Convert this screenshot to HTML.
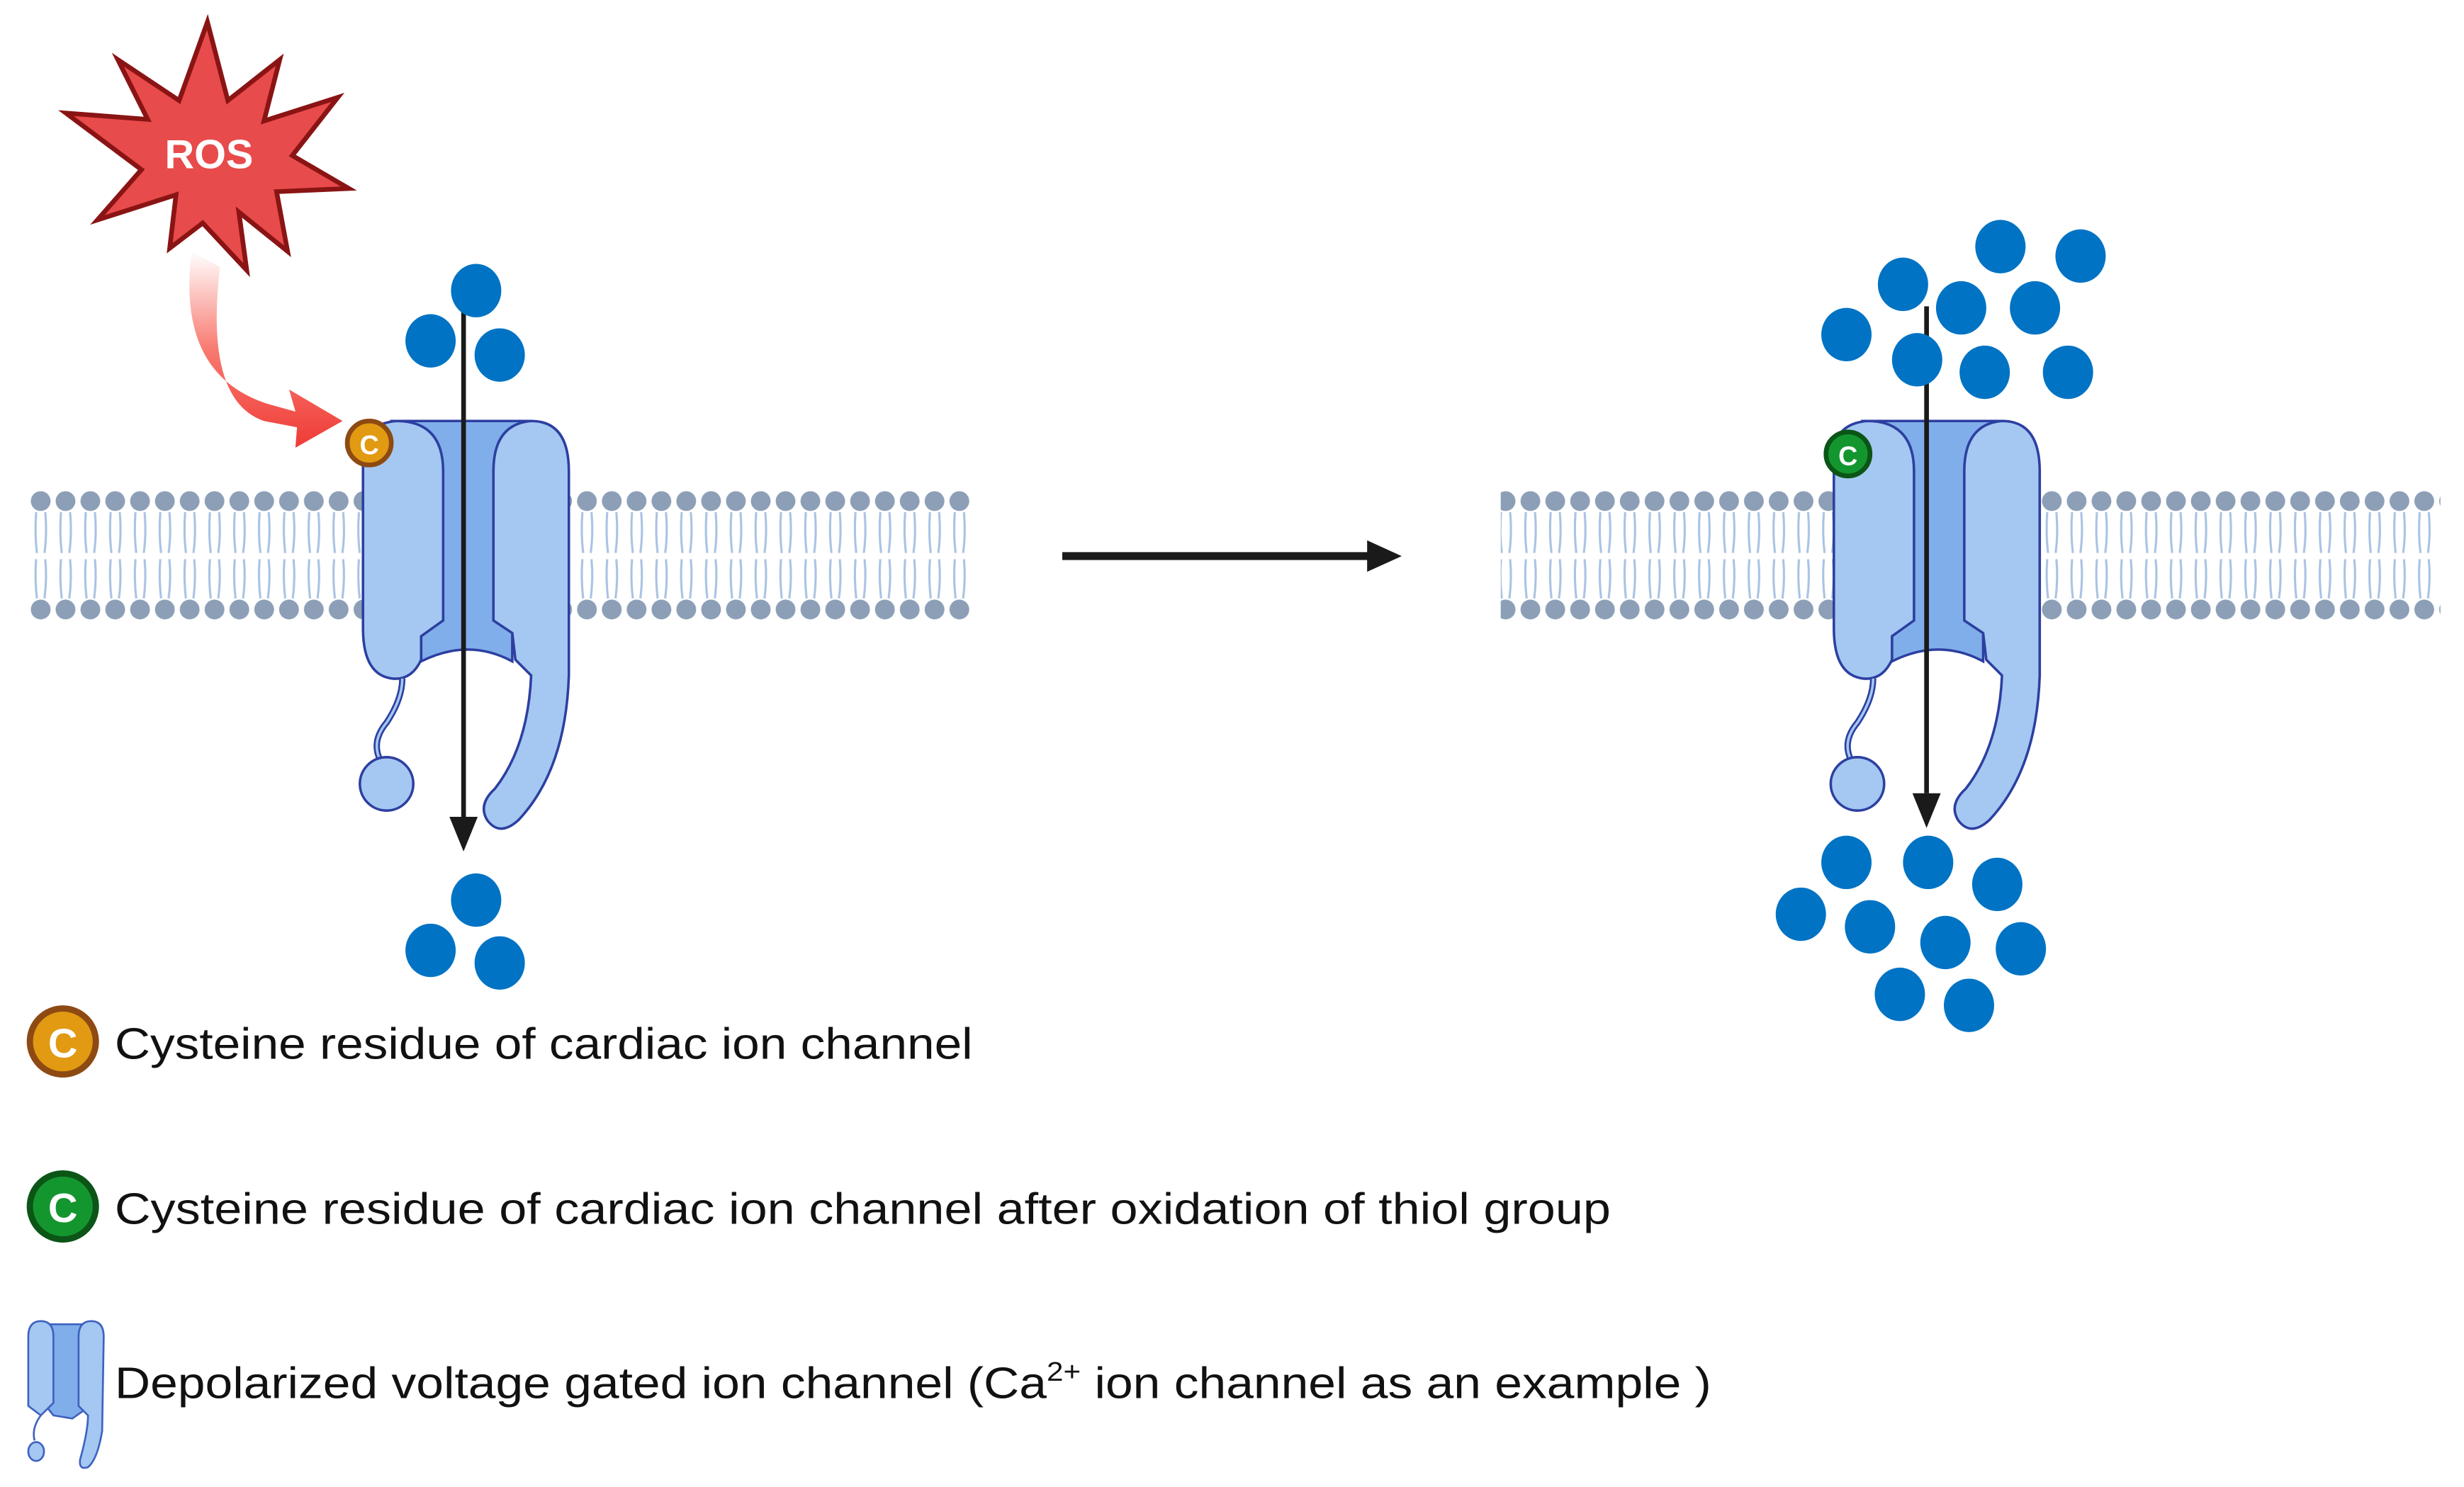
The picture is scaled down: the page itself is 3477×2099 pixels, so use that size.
<!DOCTYPE html>
<html><head><meta charset="utf-8"><style>html,body{margin:0;padding:0;background:#fff}svg{display:block}</style></head>
<body>
<svg width="3477" height="2099" viewBox="0 0 1568 946.6" preserveAspectRatio="none" xmlns="http://www.w3.org/2000/svg" font-family="Liberation Sans, sans-serif">
<defs>
<pattern id="mem" x="18" y="0" width="15.8" height="946" patternUnits="userSpaceOnUse">
<circle cx="7.9" cy="319" r="6.3" fill="#8c9fb7"/>
<circle cx="7.9" cy="388" r="6.3" fill="#8c9fb7"/>
<path d="M5 326 Q4 340 5.5 352 M10.8 326 Q12 340 10.3 352 M5 356 Q4 368 5.5 381 M10.8 356 Q12 368 10.3 381" stroke="#a9c3e3" stroke-width="1.4" fill="none"/>
</pattern>
<linearGradient id="rg" x1="0" y1="0" x2="0" y2="1"><stop offset="0" stop-color="#fff"/><stop offset="0.5" stop-color="#f87a70"/><stop offset="1" stop-color="#ef3b36"/></linearGradient>
<g id="chan">
<path d="M250 268 L338 268 L338 300 L326 403 L326 421 Q298 406 268 421 L268 403 L282 300 Z" fill="#80aeea" stroke="#2d3fa0" stroke-width="1.6"/>
<path d="M314 300 Q314 270 338 268 Q362 268 362 300 L362 430 Q360 490 330 522 Q318 533 310 522 Q304 512 315 502 Q336 475 338 430 L328 420 L326 403 L314 395 Z" fill="#a4c8f2" stroke="#2d3fa0" stroke-width="1.6"/>
<path d="M231 290 Q231 270 252 268 Q282 268 282 300 L282 395 L268 405 L268 420 Q262 433 250 432 Q231 430 231 400 Z" fill="#a4c8f2" stroke="#2d3fa0" stroke-width="1.6"/>
<path d="M256 432 Q256 445 246 460 Q236 472 242 484" stroke="#2d3fa0" stroke-width="4" fill="none"/>
<path d="M256 432 Q256 445 246 460 Q236 472 242 484" stroke="#a4c8f2" stroke-width="1.6" fill="none"/>
<circle cx="246" cy="499" r="17" fill="#a4c8f2" stroke="#2d3fa0" stroke-width="1.6"/>
</g>
</defs>
<rect x="18" y="308" width="214" height="90" fill="url(#mem)"/>
<rect x="362" y="308" width="255" height="90" fill="url(#mem)"/>
<rect x="955" y="308" width="214" height="90" fill="url(#mem)"/>
<rect x="1298" y="308" width="255" height="90" fill="url(#mem)"/>
<use href="#chan"/>
<use href="#chan" transform="translate(936,0)"/>
<polygon points="132,14 145,64 178,38 168,77 215,62 186,99 222,120 176,122 183,160 152,135 157,172 129,142 108,158 112,124 62,140 90,108 42,72 94,76 75,38 114,64" fill="#e84b4b" stroke="#8a1414" stroke-width="3" stroke-linejoin="miter"/>
<text x="133" y="107" font-size="26" font-weight="bold" fill="#fff" text-anchor="middle">ROS</text>
<path d="M122 160 Q112 238 170 257 L188 262 L184 248 L218 268 L188 285 L189 272 L168 268 Q130 255 140 170 Z" fill="url(#rg)"/>
<circle cx="235" cy="282" r="14" fill="#e19a12" stroke="#8d4a12" stroke-width="3"/>
<text x="235" y="289" font-size="17" font-weight="bold" fill="#fff" text-anchor="middle">C</text>
<circle cx="1176" cy="289" r="14" fill="#14962f" stroke="#0b5516" stroke-width="3"/>
<text x="1176" y="296" font-size="17" font-weight="bold" fill="#fff" text-anchor="middle">C</text>
<line x1="295" y1="195" x2="295" y2="520" stroke="#1a1a1a" stroke-width="3"/>
<polygon points="286,520 304,520 295,542" fill="#1a1a1a"/>
<line x1="1226" y1="195" x2="1226" y2="505" stroke="#1a1a1a" stroke-width="3"/>
<polygon points="1217,505 1235,505 1226,527" fill="#1a1a1a"/>
<line x1="676" y1="354" x2="872" y2="354" stroke="#1a1a1a" stroke-width="5"/>
<polygon points="870,344 892,354 870,364" fill="#1a1a1a"/>
<g fill="#0073c4">
<ellipse cx="303" cy="185" rx="16" ry="17"/><ellipse cx="274" cy="217" rx="16" ry="17"/><ellipse cx="318" cy="226" rx="16" ry="17"/>
<ellipse cx="303" cy="573" rx="16" ry="17"/><ellipse cx="274" cy="605" rx="16" ry="17"/><ellipse cx="318" cy="613" rx="16" ry="17"/>
<ellipse cx="1273" cy="157" rx="16" ry="17"/><ellipse cx="1324" cy="163" rx="16" ry="17"/><ellipse cx="1211" cy="181" rx="16" ry="17"/><ellipse cx="1248" cy="196" rx="16" ry="17"/><ellipse cx="1295" cy="196" rx="16" ry="17"/><ellipse cx="1175" cy="213" rx="16" ry="17"/><ellipse cx="1220" cy="229" rx="16" ry="17"/><ellipse cx="1263" cy="237" rx="16" ry="17"/><ellipse cx="1316" cy="237" rx="16" ry="17"/>
<ellipse cx="1175" cy="549" rx="16" ry="17"/><ellipse cx="1227" cy="549" rx="16" ry="17"/><ellipse cx="1271" cy="563" rx="16" ry="17"/><ellipse cx="1146" cy="582" rx="16" ry="17"/><ellipse cx="1190" cy="590" rx="16" ry="17"/><ellipse cx="1238" cy="600" rx="16" ry="17"/><ellipse cx="1286" cy="604" rx="16" ry="17"/><ellipse cx="1209" cy="633" rx="16" ry="17"/><ellipse cx="1253" cy="640" rx="16" ry="17"/>
</g>
<circle cx="40" cy="663" r="21" fill="#e19a12" stroke="#8d4a12" stroke-width="4"/>
<text x="40" y="673" font-size="26" font-weight="bold" fill="#fff" text-anchor="middle">C</text>
<text x="73" y="674" font-size="28" fill="#111" textLength="546" lengthAdjust="spacingAndGlyphs">Cysteine residue of cardiac ion channel</text>
<circle cx="40" cy="768" r="21" fill="#14962f" stroke="#0b5516" stroke-width="4"/>
<text x="40" y="778" font-size="26" font-weight="bold" fill="#fff" text-anchor="middle">C</text>
<text x="73" y="779" font-size="28" fill="#111" textLength="952" lengthAdjust="spacingAndGlyphs">Cysteine residue of cardiac ion channel after oxidation of thiol group</text>
<g transform="translate(16,841)">
<path d="M8 2 L42 2 L40 55 L30 62 L18 60 L14 55 Z" fill="#80aeea" stroke="#3f62c0" stroke-width="1.2"/>
<path d="M2 10 Q2 0 10 0 Q18 0 18 10 L18 52 L10 60 L2 54 Z" fill="#a4c8f2" stroke="#3f62c0" stroke-width="1.2"/>
<path d="M34 10 Q34 0 42 0 Q50 0 50 10 L49 70 Q46 88 40 93 Q34 95 35 88 Q40 70 40 60 L34 54 Z" fill="#a4c8f2" stroke="#3f62c0" stroke-width="1.2"/>
<path d="M10 60 Q4 68 6 76" stroke="#3f62c0" stroke-width="1.2" fill="none"/>
<ellipse cx="7" cy="83" rx="5" ry="6" fill="#a4c8f2" stroke="#3f62c0" stroke-width="1.2"/>
</g>
<text x="73" y="890" font-size="28" fill="#111" textLength="1016" lengthAdjust="spacingAndGlyphs">Depolarized voltage gated  ion channel (Ca<tspan font-size="17" dy="-11">2+</tspan><tspan dy="11"> ion channel as an example )</tspan></text>
</svg>
</body></html>
